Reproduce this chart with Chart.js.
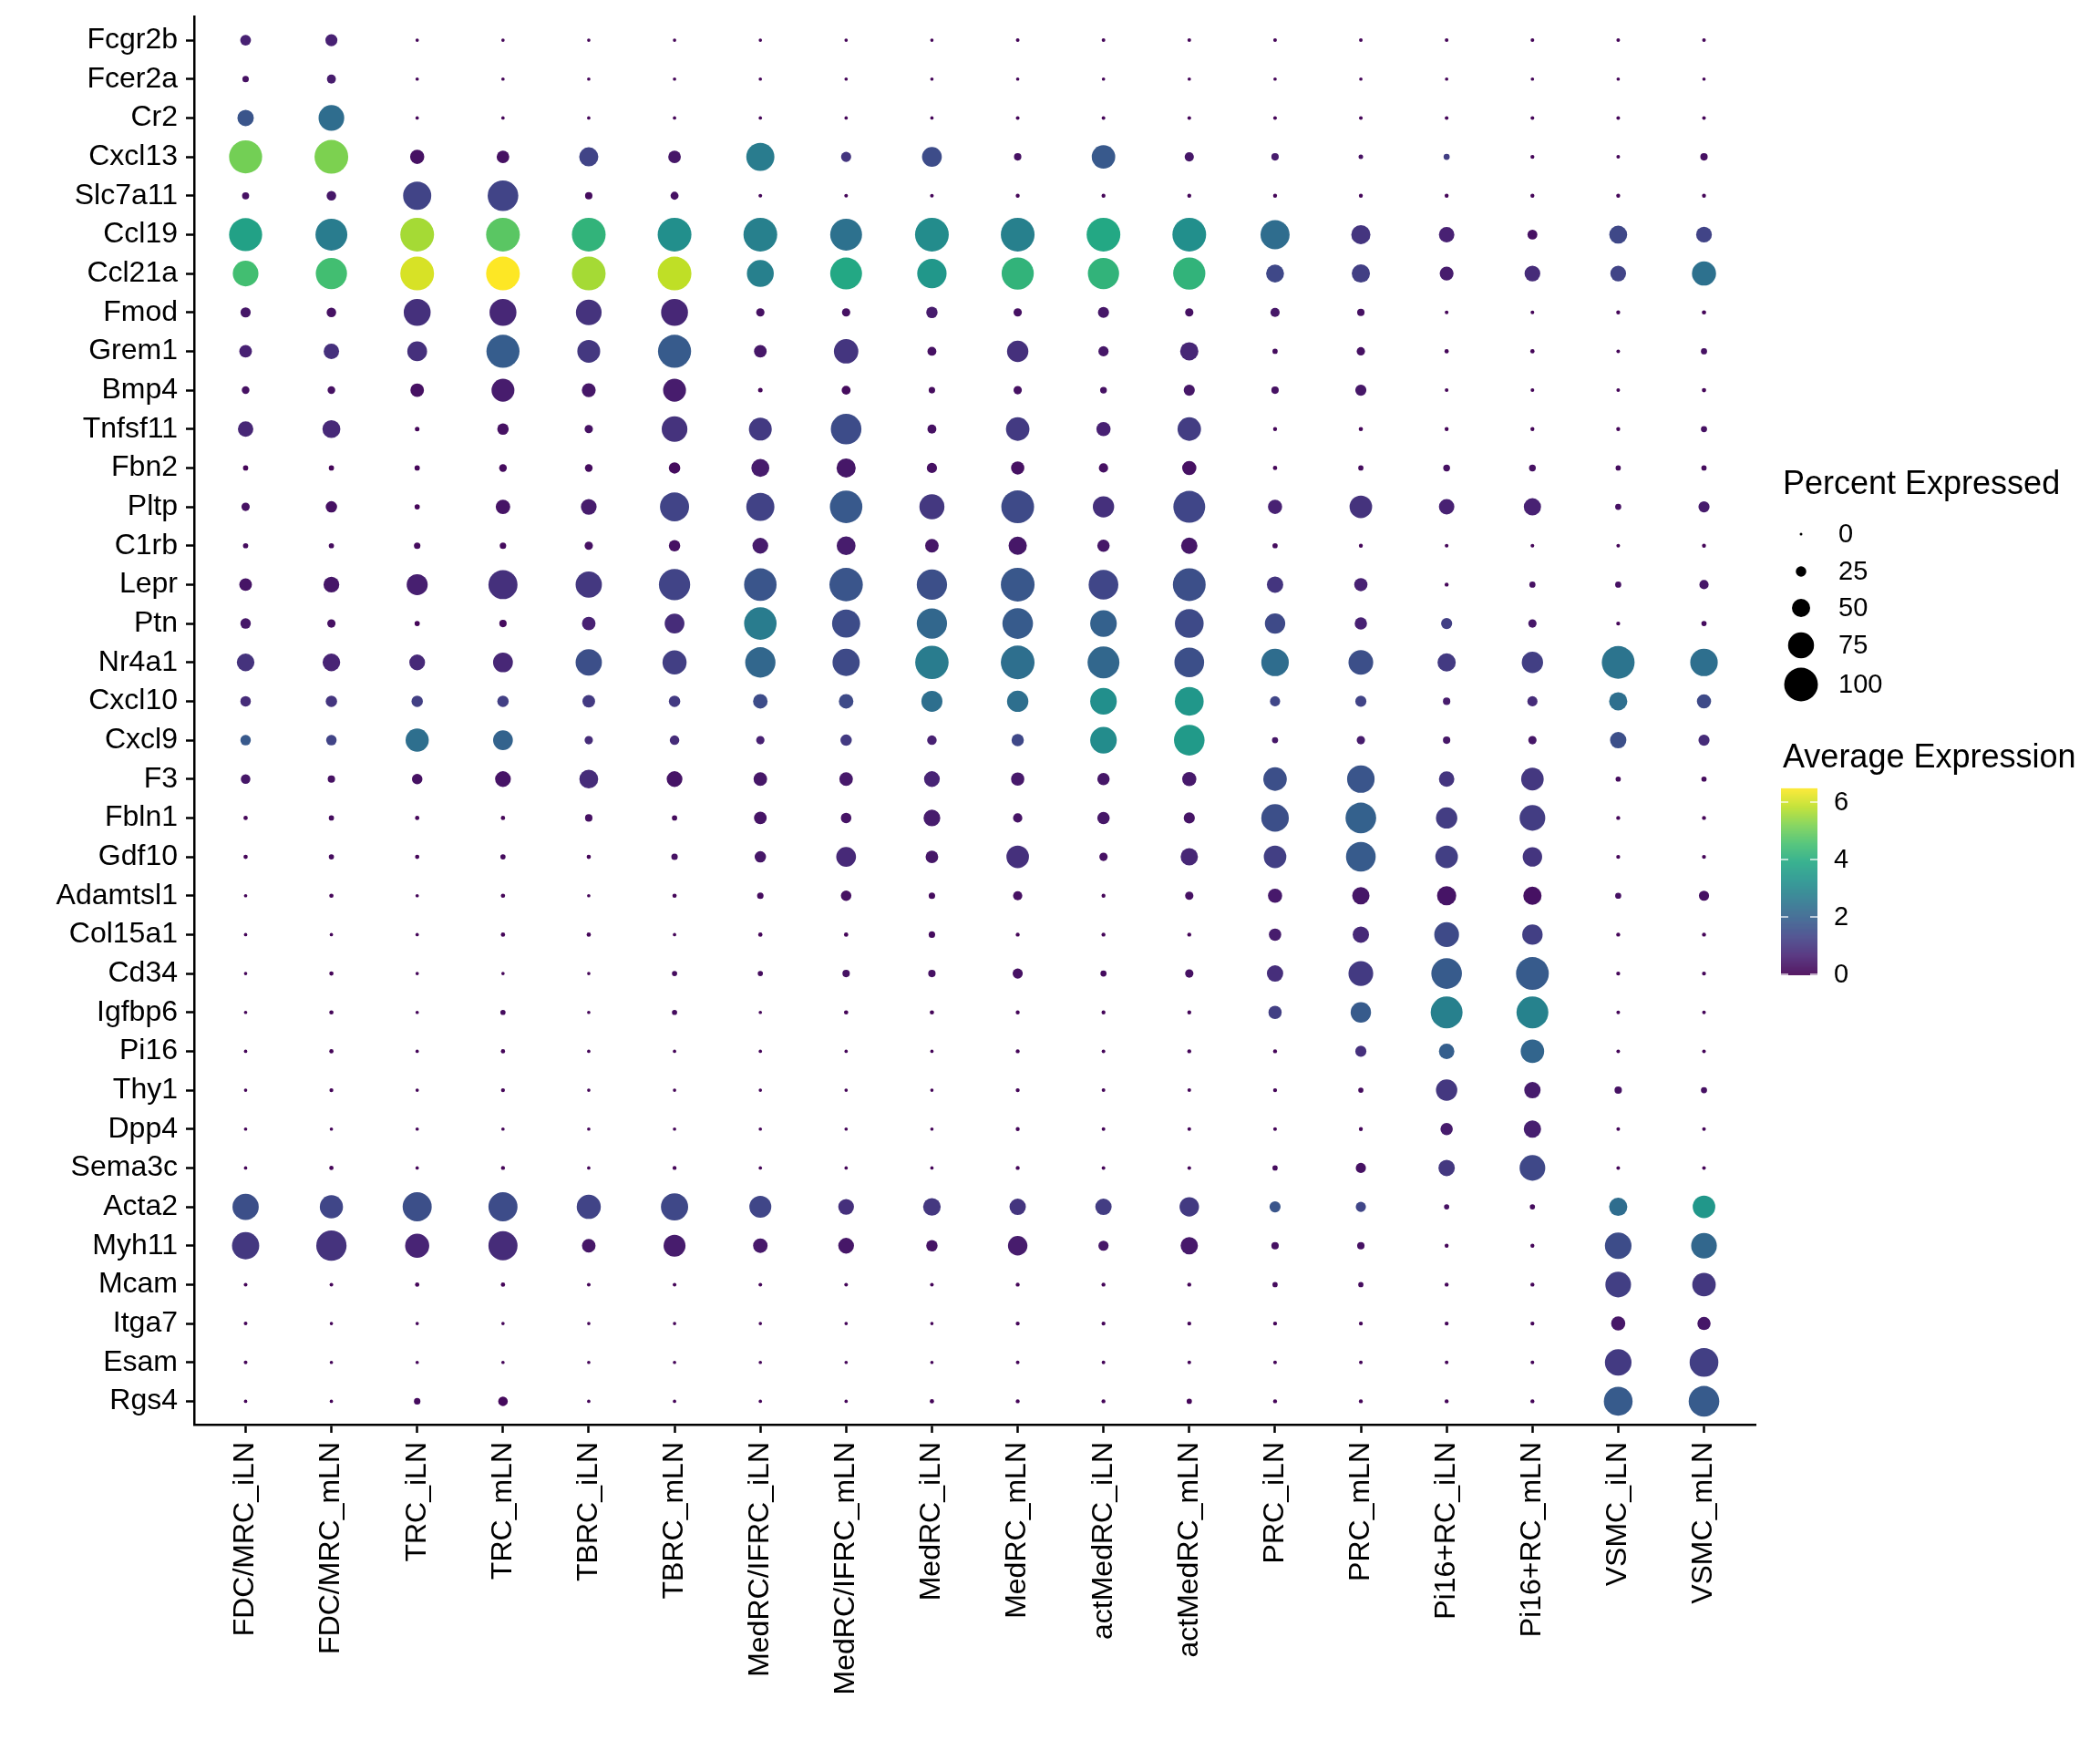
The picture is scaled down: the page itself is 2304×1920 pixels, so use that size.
<!DOCTYPE html>
<html>
<head>
<meta charset="utf-8">
<script src="https://cdn.jsdelivr.net/npm/chart.js@4.4.1/dist/chart.umd.min.js"></script>
<style>
html, body { margin: 0; padding: 0; background: #ffffff; }
#wrap { width: 2304px; height: 1920px; }
</style>
</head>
<body>
<div id="wrap"><canvas id="dotPlot" width="2304" height="1920"></canvas></div>
<script>
const genes = ['Fcgr2b', 'Fcer2a', 'Cr2', 'Cxcl13', 'Slc7a11', 'Ccl19', 'Ccl21a', 'Fmod', 'Grem1', 'Bmp4',
    'Tnfsf11', 'Fbn2', 'Pltp', 'C1rb', 'Lepr', 'Ptn', 'Nr4a1', 'Cxcl10', 'Cxcl9', 'F3', 'Fbln1', 'Gdf10',
    'Adamtsl1', 'Col15a1', 'Cd34', 'Igfbp6', 'Pi16', 'Thy1', 'Dpp4', 'Sema3c', 'Acta2', 'Myh11', 'Mcam',
    'Itga7', 'Esam', 'Rgs4'];

const cellTypes = ['FDC/MRC_iLN', 'FDC/MRC_mLN', 'TRC_iLN', 'TRC_mLN', 'TBRC_iLN', 'TBRC_mLN',
    'MedRC/IFRC_iLN', 'MedRC/IFRC_mLN', 'MedRC_iLN', 'MedRC_mLN', 'actMedRC_iLN', 'actMedRC_mLN',
    'PRC_iLN', 'PRC_mLN', 'Pi16+RC_iLN', 'Pi16+RC_mLN', 'VSMC_iLN', 'VSMC_mLN'];

// percent of cells expressing, one row per gene (same order as genes)
const pctExpressed = [
    [26, 30, 2, 2, 2, 2, 2, 2, 2, 3, 3, 3, 3, 3, 3, 3, 3, 3],
    [12, 20, 2, 2, 2, 2, 2, 2, 2, 2, 2, 2, 2, 2, 2, 2, 2, 2],
    [44, 74, 2, 2, 2, 2, 2, 2, 2, 3, 3, 3, 3, 3, 3, 3, 3, 3],
    [98, 100, 37, 32, 53, 32, 82, 24, 55, 15, 67, 21, 15, 6, 11, 4, 3, 15],
    [14, 22, 82, 90, 15, 17, 3, 3, 3, 4, 4, 4, 4, 4, 4, 4, 4, 4],
    [98, 94, 100, 100, 100, 100, 100, 94, 100, 100, 100, 100, 85, 53, 41, 23, 49, 42],
    [74, 92, 100, 100, 100, 100, 78, 94, 86, 95, 92, 95, 49, 50, 36, 42, 42, 69],
    [24, 22, 78, 78, 74, 78, 18, 18, 28, 18, 27, 18, 21, 15, 3, 3, 4, 5],
    [32, 41, 55, 98, 65, 98, 32, 70, 20, 60, 24, 50, 8, 18, 5, 5, 3, 11],
    [16, 16, 35, 65, 36, 65, 6, 20, 12, 18, 13, 27, 15, 27, 3, 3, 3, 5],
    [41, 49, 6, 28, 18, 74, 65, 90, 20, 67, 37, 67, 4, 5, 4, 4, 4, 11],
    [8, 8, 8, 16, 16, 28, 49, 53, 24, 34, 21, 37, 5, 8, 13, 13, 8, 8],
    [18, 28, 8, 38, 42, 85, 82, 96, 72, 97, 60, 94, 37, 64, 41, 47, 11, 27],
    [8, 8, 12, 12, 18, 28, 42, 52, 35, 50, 31, 44, 8, 4, 3, 3, 3, 4],
    [32, 42, 59, 85, 76, 92, 96, 99, 89, 100, 87, 97, 44, 34, 4, 11, 11, 21],
    [25, 18, 8, 15, 35, 55, 96, 82, 89, 90, 77, 84, 57, 31, 27, 18, 4, 8],
    [48, 48, 42, 55, 76, 69, 89, 79, 99, 100, 94, 87, 80, 71, 50, 60, 97, 80],
    [25, 28, 28, 28, 32, 28, 38, 38, 59, 60, 77, 84, 24, 27, 15, 24, 50, 37],
    [25, 25, 66, 55, 18, 22, 18, 28, 22, 31, 77, 90, 11, 18, 15, 18, 44, 27],
    [22, 15, 25, 42, 52, 42, 35, 35, 42, 34, 31, 37, 67, 80, 41, 64, 8, 8],
    [5, 8, 5, 5, 15, 8, 32, 25, 45, 21, 31, 27, 80, 90, 60, 74, 4, 4],
    [5, 8, 5, 8, 5, 12, 28, 55, 32, 64, 18, 47, 64, 87, 64, 54, 4, 4],
    [2, 5, 2, 5, 2, 5, 12, 25, 12, 21, 4, 18, 37, 47, 53, 50, 11, 24],
    [2, 2, 2, 5, 5, 2, 5, 5, 12, 4, 4, 4, 31, 44, 71, 57, 4, 4],
    [2, 5, 2, 2, 2, 8, 8, 15, 15, 24, 11, 18, 44, 71, 90, 97, 4, 4],
    [2, 5, 2, 8, 2, 8, 2, 5, 5, 4, 4, 4, 34, 57, 94, 94, 3, 3],
    [2, 5, 2, 5, 2, 2, 2, 2, 2, 4, 3, 4, 4, 27, 41, 67, 3, 3],
    [2, 4, 2, 4, 2, 2, 2, 2, 2, 4, 3, 3, 4, 8, 60, 44, 15, 11],
    [2, 2, 2, 2, 2, 2, 2, 2, 2, 4, 3, 3, 3, 4, 31, 47, 3, 3],
    [2, 5, 2, 4, 2, 4, 2, 2, 2, 4, 3, 3, 8, 24, 44, 74, 3, 3],
    [76, 66, 85, 85, 69, 79, 62, 42, 48, 44, 44, 54, 27, 24, 8, 8, 50, 64],
    [79, 89, 69, 85, 35, 62, 38, 42, 28, 54, 24, 47, 15, 15, 4, 4, 77, 74],
    [3, 3, 5, 5, 3, 3, 3, 3, 3, 4, 4, 4, 8, 8, 4, 4, 74, 67],
    [3, 2, 2, 2, 2, 2, 2, 2, 2, 4, 4, 4, 4, 4, 4, 4, 37, 34],
    [3, 2, 2, 2, 2, 2, 2, 2, 2, 3, 3, 3, 3, 3, 3, 3, 77, 84],
    [2, 2, 12, 22, 2, 2, 2, 2, 5, 4, 4, 8, 4, 4, 4, 4, 84, 90]
];

// average expression, one row per gene
const avgExpression = [
    [0.6, 0.6, 0.1, 0.1, 0.1, 0.1, 0.1, 0.1, 0.1, 0.1, 0.1, 0.1, 0.1, 0.1, 0.1, 0.1, 0.1, 0.1],
    [0.3, 0.5, 0.1, 0.1, 0.1, 0.1, 0.1, 0.1, 0.1, 0.1, 0.1, 0.1, 0.1, 0.1, 0.1, 0.1, 0.1, 0.1],
    [1.7, 2.3, 0.1, 0.1, 0.1, 0.1, 0.1, 0.1, 0.1, 0.1, 0.1, 0.1, 0.1, 0.1, 0.1, 0.1, 0.1, 0.1],
    [5.1, 5.2, 0.3, 0.3, 1.3, 0.4, 2.7, 1.0, 1.5, 0.3, 1.8, 0.4, 0.5, 0.3, 1.2, 0.1, 0.1, 0.3],
    [0.3, 0.4, 1.3, 1.3, 0.2, 0.3, 0.1, 0.1, 0.1, 0.1, 0.1, 0.1, 0.1, 0.1, 0.1, 0.1, 0.1, 0.1],
    [3.7, 2.7, 5.6, 4.8, 4.2, 3.2, 2.8, 2.4, 3.1, 2.8, 3.9, 3.2, 2.3, 1.0, 0.6, 0.3, 1.4, 1.3],
    [4.5, 4.5, 6.1, 6.48, 5.6, 5.85, 2.8, 3.9, 3.4, 4.2, 4.2, 4.2, 1.4, 1.2, 0.5, 0.8, 1.3, 2.4],
    [0.4, 0.3, 0.9, 0.7, 0.95, 0.7, 0.3, 0.3, 0.5, 0.3, 0.4, 0.3, 0.4, 0.3, 0.1, 0.1, 0.1, 0.1],
    [0.6, 0.9, 0.9, 1.9, 1.05, 1.85, 0.4, 1.0, 0.3, 0.9, 0.4, 0.7, 0.2, 0.3, 0.1, 0.1, 0.1, 0.3],
    [0.3, 0.3, 0.3, 0.5, 0.4, 0.5, 0.1, 0.2, 0.2, 0.3, 0.3, 0.4, 0.3, 0.4, 0.1, 0.1, 0.1, 0.1],
    [0.7, 0.75, 0.1, 0.3, 0.3, 0.95, 1.1, 1.5, 0.3, 1.1, 0.6, 1.15, 0.1, 0.1, 0.1, 0.1, 0.1, 0.3],
    [0.1, 0.1, 0.1, 0.2, 0.2, 0.2, 0.5, 0.4, 0.3, 0.3, 0.3, 0.3, 0.1, 0.2, 0.3, 0.3, 0.2, 0.2],
    [0.3, 0.3, 0.1, 0.35, 0.5, 1.3, 1.25, 1.8, 1.05, 1.45, 0.9, 1.35, 0.6, 0.95, 0.6, 0.6, 0.3, 0.5],
    [0.2, 0.2, 0.2, 0.2, 0.3, 0.3, 0.5, 0.5, 0.4, 0.4, 0.4, 0.4, 0.2, 0.1, 0.1, 0.1, 0.1, 0.1],
    [0.35, 0.4, 0.55, 0.9, 1.05, 1.3, 1.7, 1.7, 1.55, 1.75, 1.35, 1.55, 1.0, 0.6, 0.1, 0.3, 0.3, 0.4],
    [0.4, 0.3, 0.1, 0.2, 0.6, 0.8, 2.7, 1.5, 2.15, 1.85, 2.0, 1.45, 1.45, 0.6, 1.2, 0.4, 0.1, 0.2],
    [0.95, 0.65, 0.75, 0.7, 1.55, 1.2, 2.15, 1.45, 2.7, 2.35, 2.15, 1.55, 2.3, 1.55, 1.1, 1.2, 2.5, 2.35],
    [0.8, 1.0, 1.2, 1.2, 1.1, 1.1, 1.5, 1.45, 2.35, 2.35, 3.2, 3.4, 1.35, 1.3, 0.5, 0.8, 2.35, 1.45],
    [1.8, 1.3, 2.35, 2.05, 0.8, 0.8, 0.6, 1.1, 0.6, 1.4, 3.1, 3.5, 0.4, 0.5, 0.4, 0.4, 1.55, 0.8],
    [0.4, 0.3, 0.3, 0.35, 0.8, 0.35, 0.4, 0.45, 0.65, 0.45, 0.4, 0.45, 1.55, 1.7, 1.0, 1.05, 0.2, 0.2],
    [0.1, 0.2, 0.1, 0.1, 0.3, 0.2, 0.35, 0.35, 0.5, 0.35, 0.4, 0.35, 1.55, 2.0, 1.15, 1.15, 0.1, 0.1],
    [0.1, 0.2, 0.1, 0.2, 0.1, 0.3, 0.4, 0.75, 0.4, 0.9, 0.3, 0.7, 1.2, 1.85, 1.2, 1.0, 0.1, 0.1],
    [0.1, 0.1, 0.1, 0.1, 0.1, 0.1, 0.2, 0.3, 0.2, 0.3, 0.1, 0.3, 0.45, 0.4, 0.35, 0.3, 0.3, 0.3],
    [0.1, 0.1, 0.1, 0.1, 0.1, 0.1, 0.1, 0.1, 0.2, 0.1, 0.1, 0.1, 0.5, 0.75, 1.45, 1.2, 0.1, 0.1],
    [0.1, 0.1, 0.1, 0.1, 0.1, 0.2, 0.2, 0.3, 0.3, 0.3, 0.2, 0.3, 0.85, 1.1, 1.85, 1.85, 0.1, 0.1],
    [0.1, 0.1, 0.1, 0.2, 0.1, 0.2, 0.1, 0.1, 0.1, 0.1, 0.1, 0.1, 1.2, 1.85, 2.8, 2.85, 0.1, 0.1],
    [0.1, 0.1, 0.1, 0.1, 0.1, 0.1, 0.1, 0.1, 0.1, 0.1, 0.1, 0.1, 0.1, 0.9, 1.95, 2.1, 0.1, 0.1],
    [0.1, 0.1, 0.1, 0.1, 0.1, 0.1, 0.1, 0.1, 0.1, 0.1, 0.1, 0.1, 0.1, 0.2, 1.05, 0.5, 0.3, 0.3],
    [0.1, 0.1, 0.1, 0.1, 0.1, 0.1, 0.1, 0.1, 0.1, 0.1, 0.1, 0.1, 0.1, 0.1, 0.5, 0.55, 0.1, 0.1],
    [0.1, 0.1, 0.1, 0.1, 0.1, 0.1, 0.1, 0.1, 0.1, 0.1, 0.1, 0.1, 0.2, 0.3, 1.05, 1.4, 0.1, 0.1],
    [1.55, 1.35, 1.55, 1.5, 1.3, 1.4, 1.35, 0.9, 1.05, 1.0, 1.15, 1.1, 1.7, 1.35, 0.3, 0.2, 2.3, 3.4],
    [1.05, 0.95, 0.65, 0.8, 0.4, 0.5, 0.45, 0.4, 0.35, 0.5, 0.4, 0.45, 0.3, 0.3, 0.1, 0.1, 1.5, 2.15],
    [0.1, 0.1, 0.1, 0.1, 0.1, 0.1, 0.1, 0.1, 0.1, 0.1, 0.1, 0.1, 0.2, 0.2, 0.1, 0.1, 1.2, 1.05],
    [0.1, 0.1, 0.1, 0.1, 0.1, 0.1, 0.1, 0.1, 0.1, 0.1, 0.1, 0.1, 0.1, 0.1, 0.1, 0.1, 0.4, 0.4],
    [0.1, 0.1, 0.1, 0.1, 0.1, 0.1, 0.1, 0.1, 0.1, 0.1, 0.1, 0.1, 0.1, 0.1, 0.1, 0.1, 1.1, 1.2],
    [0.1, 0.1, 0.2, 0.15, 0.1, 0.1, 0.1, 0.1, 0.1, 0.1, 0.1, 0.1, 0.1, 0.1, 0.1, 0.1, 1.85, 1.85]
];

const sizeBreaks = [0, 25, 50, 75, 100];
const colorBreaks = [0, 2, 4, 6];

const viridisStops = ['#440154', '#482475', '#414487', '#355F8D', '#2A788E', '#21918C',
    '#22A884', '#44BF70', '#7AD151', '#BDDF26', '#FDE725'];

const FONT = "'Liberation Sans', Arial, Helvetica, sans-serif";
const colorMax = Math.max(...avgExpression.flat());

function hexToRgb(h) {
    const n = parseInt(h.slice(1), 16);
    return [(n >> 16) & 255, (n >> 8) & 255, n & 255];
}

function viridis(t) {
    t = Math.min(1, Math.max(0, t));
    const pos = t * (viridisStops.length - 1);
    const i = Math.min(Math.floor(pos), viridisStops.length - 2);
    const f = pos - i;
    const a = hexToRgb(viridisStops[i]);
    const b = hexToRgb(viridisStops[i + 1]);
    const c = a.map((v, k) => Math.round(v + (b[k] - v) * f));
    return `rgb(${c[0]}, ${c[1]}, ${c[2]})`;
}

function dotRadius(pct) {
    return 1.5 + 0.17 * pct;
}

const points = [];
const pointColors = [];
genes.forEach((gene, gi) => {
    cellTypes.forEach((cell, ci) => {
        points.push({ x: ci + 1, y: gi + 1, r: dotRadius(pctExpressed[gi][ci]) });
        pointColors.push(viridis(avgExpression[gi][ci] / colorMax));
    });
});

// legends on the right: size key and colour bar
const guidePlugin = {
    id: 'guides',
    afterDraw(chart) {
        const ctx = chart.ctx;
        const left = chart.chartArea.right + 30;
        ctx.save();
        ctx.fillStyle = '#000';
        ctx.textAlign = 'left';
        ctx.textBaseline = 'alphabetic';
        ctx.font = `36px ${FONT}`;
        ctx.fillText('Percent Expressed', left, 542);

        ctx.font = `29px ${FONT}`;
        ctx.textBaseline = 'middle';
        const keyY = [586, 627, 667, 708, 751];
        sizeBreaks.forEach((p, i) => {
            ctx.beginPath();
            ctx.arc(left + 20, keyY[i], dotRadius(p), 0, Math.PI * 2);
            ctx.fill();
            ctx.fillText(String(p), left + 61, keyY[i] + 1);
        });

        ctx.textBaseline = 'alphabetic';
        ctx.font = `36px ${FONT}`;
        ctx.fillText('Average Expression', left, 842);

        const barX = left - 2, barW = 40, barBottom = 1069;
        const perUnit = 31.5;
        const barTop = barBottom - colorMax * perUnit;
        for (let y = barTop; y < barBottom; y++) {
            ctx.fillStyle = viridis((barBottom - y - 0.5) / (barBottom - barTop));
            ctx.fillRect(barX, y, barW, 1);
        }
        ctx.strokeStyle = 'rgba(255,255,255,0.85)';
        ctx.lineWidth = 1.5;
        ctx.font = `29px ${FONT}`;
        ctx.textBaseline = 'middle';
        ctx.fillStyle = '#000';
        colorBreaks.forEach(v => {
            const y = barBottom - v * perUnit;
            ctx.beginPath();
            ctx.moveTo(barX, y); ctx.lineTo(barX + 8, y);
            ctx.moveTo(barX + barW - 8, y); ctx.lineTo(barX + barW, y);
            ctx.stroke();
            ctx.fillText(String(v), left + 56, y + 1);
        });
        ctx.restore();
    }
};

const tickFont = { family: FONT, size: 32 };

// keep the panel where the reference has it; labels never sit at the very ends
function noEdgePadding(axis) {
    axis.paddingTop = 0;
    axis.paddingBottom = 0;
    axis.paddingLeft = 0;
    axis.paddingRight = 0;
}

new Chart(document.getElementById('dotPlot'), {
    type: 'bubble',
    data: {
        datasets: [{
            data: points,
            backgroundColor: pointColors,
            borderWidth: 0,
            hoverBorderWidth: 0
        }]
    },
    options: {
        responsive: false,
        devicePixelRatio: 1,
        animation: false,
        layout: {
            padding: { top: 16, right: 378, left: 0, bottom: 0 }
        },
        plugins: {
            legend: { display: false },
            tooltip: { enabled: false }
        },
        scales: {
            x: {
                type: 'linear',
                position: 'bottom',
                min: 0.4,
                max: 18.6,
                afterBuildTicks: axis => {
                    axis.ticks = cellTypes.map((c, i) => ({ value: i + 1 }));
                },
                afterFit: axis => {
                    axis.height = 357;
                    noEdgePadding(axis);
                },
                ticks: {
                    callback: v => cellTypes[v - 1],
                    autoSkip: false,
                    minRotation: 90,
                    maxRotation: 90,
                    padding: 10,
                    color: '#000',
                    font: tickFont
                },
                grid: {
                    drawOnChartArea: false,
                    tickLength: 9,
                    tickWidth: 2.5,
                    tickColor: '#000'
                },
                border: { color: '#000', width: 2.5 }
            },
            y: {
                type: 'linear',
                reverse: true,
                min: 0.4,
                max: 36.6,
                afterBuildTicks: axis => {
                    axis.ticks = genes.map((g, i) => ({ value: i + 1 }));
                },
                afterFit: axis => {
                    axis.width = 213;
                    noEdgePadding(axis);
                },
                ticks: {
                    callback: v => genes[v - 1],
                    autoSkip: false,
                    padding: 9,
                    color: '#000',
                    font: tickFont
                },
                grid: {
                    drawOnChartArea: false,
                    tickLength: 9,
                    tickWidth: 2.5,
                    tickColor: '#000'
                },
                border: { color: '#000', width: 2.5 }
            }
        }
    },
    plugins: [guidePlugin]
});
</script>
</body>
</html>
